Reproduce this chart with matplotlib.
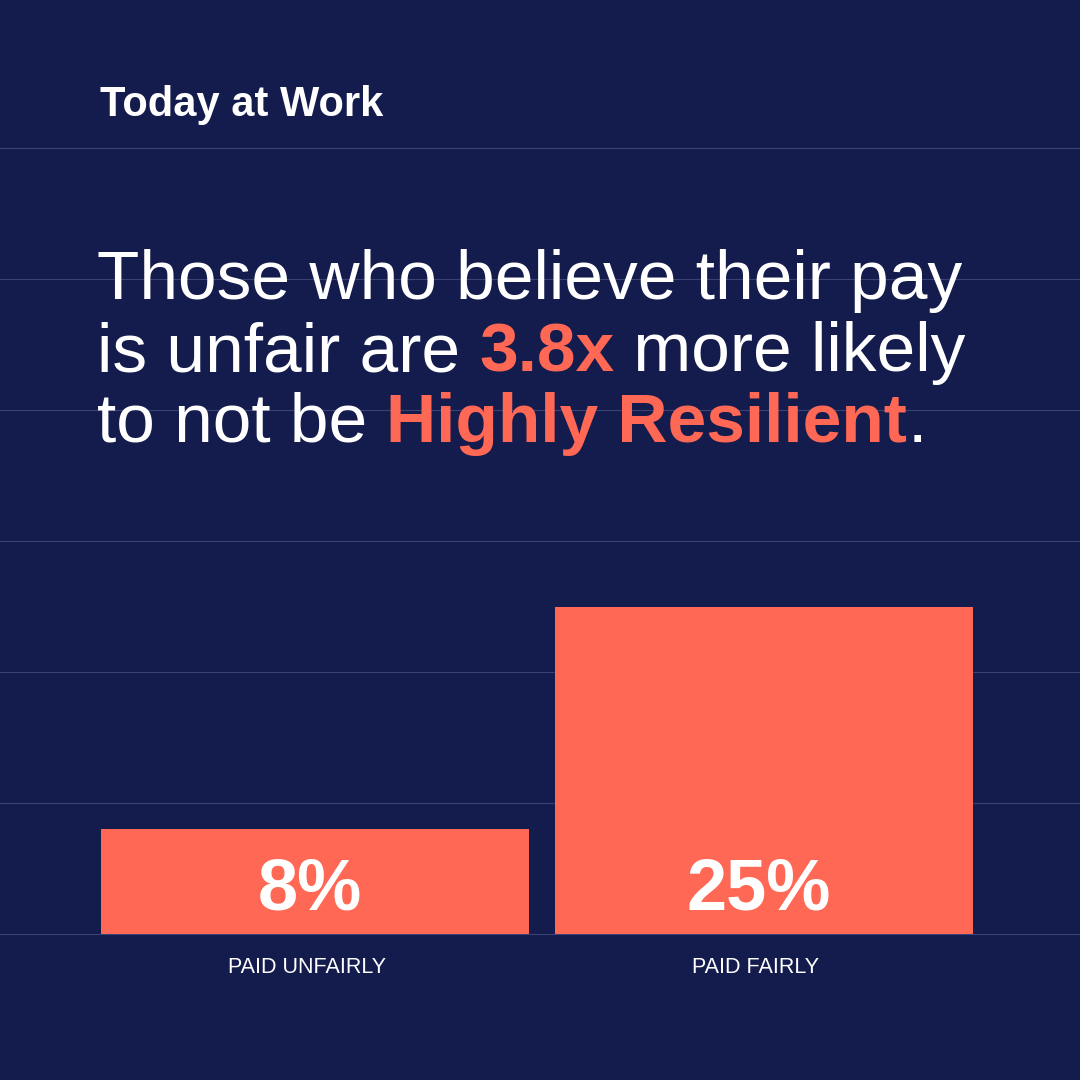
import matplotlib
matplotlib.use("Agg")
import matplotlib.pyplot as plt

categories = ["PAID UNFAIRLY", "PAID FAIRLY"]
values = [8, 25]
grid_vals = [0, 10, 20, 30, 40, 50, 60]

BG = "#141B4D"
CORAL = "#FF6854"
GRID = "#3A4274"
FONT = "Liberation Sans"

fig = plt.figure(figsize=(10.8, 10.8), dpi=100)
fig.patch.set_facecolor(BG)
ax = fig.add_axes([0, 0, 1, 1])
ax.set_facecolor(BG)
ppu = 13.1
ax.set_xlim(0, 1080)
ax.set_ylim(-(1080 - 934) / ppu, 934 / ppu)
ax.axis("off")

for g in grid_vals:
    ax.axhline(g, color=GRID, lw=0.8, zorder=0)

centers = [315, 764]
widths = [428, 418]
ax.bar(centers, values, width=widths, color=CORAL, zorder=2)
for c, v, lab in zip(centers, values, categories):
    ax.text(c - 5, 3.35, f"{v}%", ha="center", va="center",
            color="white", fontsize=52, fontweight="bold", family=FONT, zorder=3)
    ax.text(c - 8, -2.55, lab, ha="center", va="center", color="white",
            fontsize=15.5, family=FONT)

fig.text(100 / 1080, 1 - 105 / 1080, "Today at Work", color="white", fontsize=30,
         fontweight="bold", family=FONT, va="center", ha="left")

lines = [
    [("Those who believe their pay", "white", "normal")],
    [("is unfair are ", "white", "normal"), ("3.8x", CORAL, "bold"), (" more likely", "white", "normal")],
    [("to not be ", "white", "normal"), ("Highly Resilient", CORAL, "bold"), (".", "white", "normal")],
]
baselines = [299, 371, 442]
fig.canvas.draw()
r = fig.canvas.get_renderer()
for line, by in zip(lines, baselines):
    x = 97
    for txt, col, w in line:
        t = fig.text(x / 1080, 1 - by / 1080, txt, color=col, fontsize=50, fontweight=w,
                     family=FONT, va="baseline", ha="left")
        bb = t.get_window_extent(renderer=r)
        x += bb.width

fig.savefig("out.png", dpi=100, facecolor=BG)
